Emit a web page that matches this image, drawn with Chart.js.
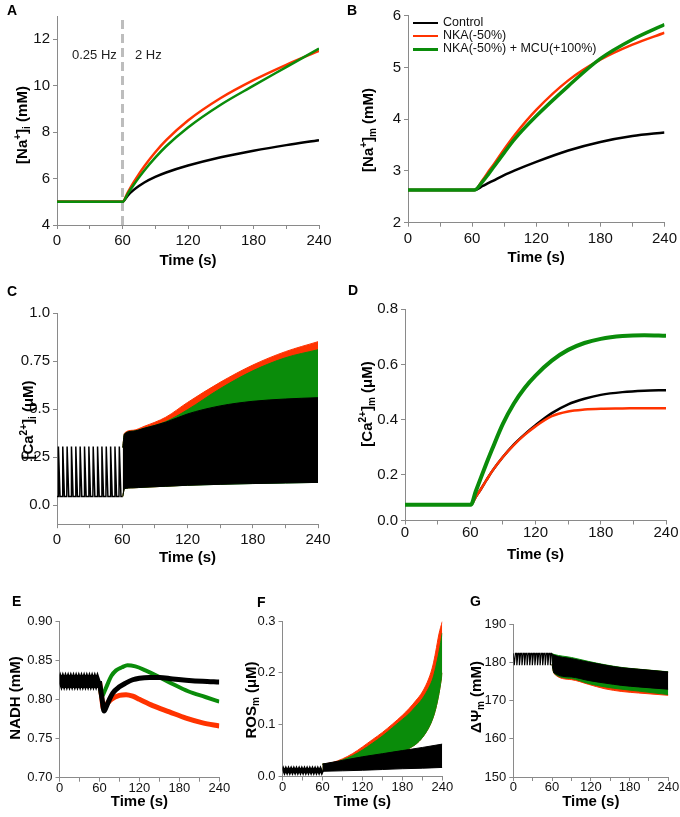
<!DOCTYPE html>
<html><head><meta charset="utf-8">
<script src="https://cdn.jsdelivr.net/npm/chart.js@4.4.1/dist/chart.umd.min.js"></script>
<style>
html,body{margin:0;padding:0;background:#fff;}
#wrap{position:relative;width:680px;height:817px;overflow:hidden;font-family:'Liberation Sans',Arial,sans-serif;}
.cv{position:absolute;}
.lab{position:absolute;font-weight:bold;font-size:14px;line-height:14px;color:#000;}
.note{position:absolute;font-size:13px;line-height:13px;color:#222;white-space:nowrap;}
.lg{position:absolute;height:0;}
</style></head><body><div id="wrap"></div>
<script>
// ---------- shared ----------
const seriesNames = ['Control', 'NKA(-50%)', 'NKA(-50%) + MCU(+100%)'];
const panelLetters = ['A', 'B', 'C', 'D', 'E', 'F', 'G'];
const stimLabels = ['0.25 Hz', '2 Hz'];
const timeTicks = [0, 30, 60, 90, 120, 150, 180, 210, 240];
const timeTickLabels = ['0', '', '60', '', '120', '', '180', '', '240'];
const xTitle = 'Time (s)';

// ---------- A: [Na+]i ----------
const naiT = [0, 60, 65, 70, 75, 80, 90, 100, 120, 150, 180, 210, 240];
const naiCtrl = [5.0, 5.0, 5.28, 5.5, 5.68, 5.83, 6.07, 6.26, 6.56, 6.92, 7.2, 7.44, 7.65];
const naiNka = [5.0, 5.0, 5.42, 5.82, 6.19, 6.53, 7.13, 7.65, 8.5, 9.47, 10.24, 10.9, 11.5];
const naiNkaMcu = [5.0, 5.0, 5.36, 5.71, 6.04, 6.35, 6.9, 7.39, 8.2, 9.18, 10.0, 10.8, 11.6];
const stimSwitchT = [60, 60];
const stimSwitchY = [4, 13];
const naiYTicks = [4, 6, 8, 10, 12];
const naiYLabels = ['4', '6', '8', '10', '12'];

// ---------- B: [Na+]m ----------
const namT = [0, 62, 70, 75, 80, 90, 100, 120, 150, 180, 210, 240];
const namCtrl = [2.63, 2.63, 2.71, 2.763, 2.815, 2.92, 3.01, 3.175, 3.395, 3.56, 3.675, 3.745];
const namNka = [2.63, 2.63, 2.83, 2.98, 3.12, 3.42, 3.70, 4.18, 4.75, 5.15, 5.44, 5.67];
const namNkaMcu = [2.63, 2.63, 2.80, 2.93, 3.07, 3.35, 3.62, 4.06, 4.64, 5.17, 5.54, 5.83];
const namYTicks = [2, 3, 4, 5, 6];
const namYLabels = ['2', '3', '4', '5', '6'];

// ---------- C: [Ca2+]i ----------
const caiPreT = [0, 1, 1.3, 2.8, 5, 5.3, 6.8, 9, 9.3, 10.8, 13, 13.3, 14.8, 17, 17.3, 18.8, 21, 21.3, 22.8, 25, 25.3, 26.8, 29, 29.3, 30.8, 33, 33.3, 34.8, 37, 37.3, 38.8, 41, 41.3, 42.8, 45, 45.3, 46.8, 49, 49.3, 50.8, 53, 53.3, 54.8, 57, 57.3, 58.8, 60.5];
const caiPreV = [0.045, 0.045, 0.305, 0.045, 0.045, 0.305, 0.045, 0.045, 0.305, 0.045, 0.045, 0.305, 0.045, 0.045, 0.305, 0.045, 0.045, 0.305, 0.045, 0.045, 0.305, 0.045, 0.045, 0.305, 0.045, 0.045, 0.305, 0.045, 0.045, 0.305, 0.045, 0.045, 0.305, 0.045, 0.045, 0.305, 0.045, 0.045, 0.305, 0.045, 0.045, 0.305, 0.045, 0.045, 0.305, 0.045, 0.045];
const caiBandT = [60.5, 62, 70, 80, 100, 120, 150, 180, 210, 240];
const caiCtrlUp = [0.30, 0.37, 0.385, 0.40, 0.432, 0.475, 0.517, 0.541, 0.553, 0.56];
const caiCtrlLo = [0.045, 0.085, 0.09, 0.093, 0.098, 0.103, 0.108, 0.112, 0.115, 0.118];
const caiNkaUp = [0.30, 0.375, 0.39, 0.41, 0.458, 0.535, 0.64, 0.73, 0.80, 0.852];
const caiNkaLo = [0.045, 0.085, 0.09, 0.093, 0.098, 0.104, 0.11, 0.115, 0.12, 0.128];
const caiMcuUp = [0.30, 0.37, 0.385, 0.40, 0.435, 0.497, 0.607, 0.70, 0.768, 0.81];
const caiMcuLo = [0.045, 0.085, 0.09, 0.093, 0.098, 0.103, 0.108, 0.112, 0.115, 0.118];
const caiYTicks = [0, 0.25, 0.5, 0.75, 1.0];
const caiYLabels = ['0.0', '0.25', '0.5', '0.75', '1.0'];

// ---------- D: [Ca2+]m ----------
const camT = [0, 60.5, 65, 70, 75, 80, 90, 100, 110, 120, 135, 150, 165, 180, 200, 220, 240];
const camCtrl = [0.092, 0.092, 0.12, 0.15, 0.182, 0.213, 0.265, 0.31, 0.347, 0.38, 0.424, 0.456, 0.476, 0.49, 0.50, 0.505, 0.507];
const camNka = [0.092, 0.092, 0.12, 0.15, 0.182, 0.213, 0.265, 0.308, 0.345, 0.376, 0.413, 0.43, 0.437, 0.44, 0.441, 0.442, 0.442];
const camNkaMcu = [0.092, 0.092, 0.14, 0.192, 0.243, 0.292, 0.385, 0.458, 0.515, 0.56, 0.614, 0.653, 0.678, 0.693, 0.703, 0.706, 0.704];
const camYTicks = [0.035, 0.2, 0.4, 0.6, 0.8];
const camYLabels = ['0.0', '0.2', '0.4', '0.6', '0.8'];

// ---------- E: NADH ----------
const zigT = [0, 1, 3, 5, 7, 9, 11, 13, 15, 17, 19, 21, 23, 25, 27, 29, 31, 33, 35, 37, 39, 41, 43, 45, 47, 49, 51, 53, 55, 57, 59, 60];
const nadhPreV = [0.823, 0.8255, 0.8205, 0.8255, 0.8205, 0.8255, 0.8205, 0.8255, 0.8205, 0.8255, 0.8205, 0.8255, 0.8205, 0.8255, 0.8205, 0.8255, 0.8205, 0.8255, 0.8205, 0.8255, 0.8205, 0.8255, 0.8205, 0.8255, 0.8205, 0.8255, 0.8205, 0.8255, 0.8205, 0.8255, 0.8205, 0.823];
const nadhCtrlT = [60, 64, 67, 70, 75, 80, 90, 100, 110, 120, 135, 150, 170, 190, 215, 240];
const nadhCtrl = [0.823, 0.80, 0.785, 0.79, 0.80, 0.808, 0.816, 0.821, 0.825, 0.827, 0.828, 0.828, 0.826, 0.8245, 0.823, 0.822];
const nadhNkaT = [60, 63, 66, 70, 78, 90, 100, 110, 120, 140, 165, 190, 215, 240];
const nadhNka = [0.823, 0.805, 0.788, 0.793, 0.80, 0.805, 0.806, 0.804, 0.80, 0.792, 0.784, 0.776, 0.77, 0.766];
const nadhMcuT = [60, 63.5, 66, 70, 78, 85, 94, 102, 114, 129, 144, 169, 194, 219, 240];
const nadhMcu = [0.823, 0.803, 0.807, 0.815, 0.83, 0.837, 0.841, 0.8435, 0.842, 0.837, 0.831, 0.82, 0.81, 0.803, 0.797];
const nadhYTicks = [0.70, 0.75, 0.80, 0.85, 0.90];
const nadhYLabels = ['0.70', '0.75', '0.80', '0.85', '0.90'];

// ---------- F: ROSm ----------
const rosPreV = [0.0115, 0.0145, 0.0085, 0.0145, 0.0085, 0.0145, 0.0085, 0.0145, 0.0085, 0.0145, 0.0085, 0.0145, 0.0085, 0.0145, 0.0085, 0.0145, 0.0085, 0.0145, 0.0085, 0.0145, 0.0085, 0.0145, 0.0085, 0.0145, 0.0085, 0.0145, 0.0085, 0.0145, 0.0085, 0.0145, 0.0085, 0.0115];
const rosCtrlT = [60, 90, 120, 150, 180, 210, 240];
const rosCtrlUp = [0.024, 0.031, 0.038, 0.044, 0.05, 0.056, 0.0625];
const rosCtrlLo = [0.010, 0.011, 0.012, 0.0135, 0.015, 0.016, 0.0175];
const rosT = [60, 75, 90, 105, 120, 135, 150, 165, 180, 190, 200, 210, 220, 226, 230, 235, 240];
const rosNkaUp = [0.024, 0.027, 0.034, 0.044, 0.057, 0.071, 0.085, 0.101, 0.118, 0.131, 0.146, 0.163, 0.19, 0.215, 0.24, 0.275, 0.299];
const rosMcuUp = [0.024, 0.026, 0.032, 0.04, 0.051, 0.064, 0.078, 0.094, 0.11, 0.121, 0.135, 0.15, 0.172, 0.19, 0.21, 0.24, 0.277];
const rosMcuLo = [0.012, 0.013, 0.014, 0.016, 0.018, 0.022, 0.026, 0.033, 0.044, 0.054, 0.062, 0.075, 0.095, 0.113, 0.13, 0.16, 0.2];
const rosYTicks = [0, 0.1, 0.2, 0.3];
const rosYLabels = ['0.0', '0.1', '0.2', '0.3'];

// ---------- G: ΔΨm ----------
const psiPreT = [0, 1, 1.5, 3.3, 5, 5.5, 7.3, 9, 9.5, 11.3, 13, 13.5, 15.3, 17, 17.5, 19.3, 21, 21.5, 23.3, 25, 25.5, 27.3, 29, 29.5, 31.3, 33, 33.5, 35.3, 37, 37.5, 39.3, 41, 41.5, 43.3, 45, 45.5, 47.3, 49, 49.5, 51.3, 53, 53.5, 55.3, 57, 57.5, 59.3, 60];
const psiPreV = [182.4, 182.4, 179.3, 182.4, 182.4, 179.3, 182.4, 182.4, 179.3, 182.4, 182.4, 179.3, 182.4, 182.4, 179.3, 182.4, 182.4, 179.3, 182.4, 182.4, 179.3, 182.4, 182.4, 179.3, 182.4, 182.4, 179.3, 182.4, 182.4, 179.3, 182.4, 182.4, 179.3, 182.4, 182.4, 179.3, 182.4, 182.4, 179.3, 182.4, 182.4, 179.3, 182.4, 182.4, 179.3, 182.4, 182.4];
const psiT = [60, 63, 90, 116, 142, 168, 194, 240];
const psiCtrlUp = [182.2, 181.9, 181.0, 180.1, 179.3, 178.6, 178.2, 177.5];
const psiCtrlLo = [179.5, 177.3, 176.2, 175.3, 174.6, 174.0, 173.6, 173.0];
const psiMcuUp = [182.3, 182.1, 181.3, 180.3, 179.4, 178.7, 178.25, 177.55];
const psiMcuLo = [179.5, 177.2, 175.8, 174.5, 173.6, 173.0, 172.5, 171.6];
const psiNkaUp = [182.2, 181.9, 181.0, 180.1, 179.3, 178.6, 178.2, 177.5];
const psiNkaLo = [179.5, 177.1, 175.5, 174.3, 173.1, 172.4, 172.0, 171.4];
const psiYTicks = [150, 160, 170, 180, 190];
const psiYLabels = ['150', '160', '170', '180', '190'];

// ---------- y-axis titles (text pieces: [text, 'sup'|'sub'|''] ) ----------
const yTitleA = [['[Na', ''], ['+', 'sup'], [']', ''], ['i', 'sub'], [' (mM)', '']];
const yTitleB = [['[Na', ''], ['+', 'sup'], [']', ''], ['m', 'sub'], [' (mM)', '']];
const yTitleC = [['[Ca', ''], ['2+', 'sup'], [']', ''], ['i', 'sub'], [' (\u03BCM)', '']];
const yTitleD = [['[Ca', ''], ['2+', 'sup'], [']', ''], ['m', 'sub'], [' (\u03BCM)', '']];
const yTitleE = [['NADH (mM)', '']];
const yTitleF = [['ROS', ''], ['m', 'sub'], [' (\u03BCM)', '']];
const yTitleG = [['\u0394\u03A8', ''], ['m', 'sub'], [' (mM)', '']];

// ---------- styling / helpers ----------
const COL = ['#000000', '#ff3300', '#0a8c0a'];
const AXIS = '#8a8a8a';
const FONT = "'Liberation Sans', Arial, 'DejaVu Sans', sans-serif";
Chart.defaults.font.family = FONT;
const wrap = document.getElementById('wrap');

const richTitle = {
  id: 'richTitle',
  afterDraw(chart, args, o) {
    if (!o || !o.pieces) return;
    const ctx = chart.ctx;
    const fnt = k => 'bold ' + (k ? 10 : 15) + 'px ' + FONT;
    ctx.save();
    ctx.translate(o.x, o.y);
    ctx.rotate(-Math.PI / 2);
    let w = 0;
    o.pieces.forEach(p => { ctx.font = fnt(p[1]); w += ctx.measureText(p[0]).width; });
    let x = -w / 2;
    ctx.textBaseline = 'middle';
    ctx.textAlign = 'left';
    ctx.fillStyle = '#000';
    o.pieces.forEach(p => {
      ctx.font = fnt(p[1]);
      const dy = p[1] === 'sup' ? -5 : (p[1] === 'sub' ? 4 : 0);
      ctx.fillText(p[0], x, dy);
      x += ctx.measureText(p[0]).width;
    });
    ctx.restore();
  }
};

const xy = (t, v) => t.map((x, i) => ({x: x, y: v[i]}));
function line(t, v, color, w, extra) {
  return Object.assign({data: xy(t, v), borderColor: color, backgroundColor: color, borderWidth: w,
    pointRadius: 0, fill: false, cubicInterpolationMode: 'monotone', borderCapStyle: 'butt'}, extra || {});
}
function spikes(t, v, color, w) {
  return line(t, v, color, w, {cubicInterpolationMode: 'default', tension: 0, borderJoinStyle: 'miter'});
}
function band(t, lo, up, color) {
  return [line(t, lo, color, 1), line(t, up, color, 1, {fill: '-1'})];
}

function panel(box, area, yTitle, xTitleCY, datasets, y, small, xPad) {
  const tickSize = small ? 13 : 15;
  const lh = 18;
  const padL = 4;
  const padB = box.top + box.h - xTitleCY - lh / 2;
  const padT = area.t - box.top;
  const padR = box.left + box.w - area.r;
  const yW = area.l - box.left - padL;
  const xH = box.top + box.h - padB - area.b;
  const c = document.createElement('canvas');
  c.width = box.w; c.height = box.h;
  c.className = 'cv';
  c.style.left = box.left + 'px'; c.style.top = box.top + 'px';
  wrap.appendChild(c);
  const grid = {display: true, drawOnChartArea: false, drawTicks: true, tickLength: 4, color: AXIS, lineWidth: 1};
  const border = {display: true, color: AXIS, width: 1};
  return new Chart(c, {
    type: 'line',
    data: {datasets: datasets},
    plugins: [richTitle],
    options: {
      responsive: false, animation: false, events: [],
      layout: {padding: {left: padL, right: padR, top: padT, bottom: padB}},
      plugins: {legend: {display: false}, tooltip: {enabled: false},
        richTitle: {pieces: yTitle.pieces, x: yTitle.cx - box.left, y: yTitle.cy - box.top}},
      scales: {
        x: {type: 'linear', min: 0, max: 240,
          afterBuildTicks: s => { s.ticks = timeTicks.map(v => ({value: v})); },
          afterFit: s => { s.height = xH; },
          ticks: {autoSkip: false, maxRotation: 0, padding: xPad, color: '#111', font: {size: tickSize},
            callback: (v, i) => timeTickLabels[i]},
          grid: grid, border: border,
          title: {display: true, text: xTitle, color: '#000', font: {size: 15, weight: 'bold', lineHeight: 1.2}, padding: 0}
        },
        y: {type: 'linear', min: y.min, max: y.max,
          afterBuildTicks: s => { s.ticks = y.ticks.map(v => ({value: v})); },
          afterFit: s => { s.width = yW; },
          ticks: {autoSkip: false, padding: 3, color: '#111', font: {size: tickSize},
            callback: (v, i) => y.labels[i]},
          grid: grid, border: border,
          title: {display: false}
        }
      }
    }
  });
}

// ---------- A ----------
panel({left: 0, top: 0, w: 340, h: 272}, {l: 57, r: 319, t: 16, b: 225}, {pieces: yTitleA, cx: 23, cy: 125}, 261, [
  line(naiT, naiNkaMcu, COL[2], 2.5),
  line(naiT, naiNka, COL[1], 2.5),
  line(naiT, naiCtrl, COL[0], 2.5),
  line(stimSwitchT, stimSwitchY, '#bdbdbd', 3, {borderDash: [9, 5], cubicInterpolationMode: 'default'})
], {min: 4, max: 13, ticks: naiYTicks, labels: naiYLabels}, false, 3);

// ---------- B ----------
panel({left: 340, top: 0, w: 340, h: 272}, {l: 408, r: 668, t: 15.7, b: 222.7}, {pieces: yTitleB, cx: 369, cy: 130}, 258, [
  line(namT, namNkaMcu, COL[2], 3.5),
  line(namT, namNka, COL[1], 2.5),
  line(namT, namCtrl, COL[0], 2.5)
], {min: 2, max: 6, ticks: namYTicks, labels: namYLabels}, false, 3);

// ---------- C ----------
panel({left: 0, top: 270, w: 340, h: 310}, {l: 57, r: 318, t: 313.3, b: 524.2}, {pieces: yTitleC, cx: 29, cy: 420}, 558, [
  ...band(caiBandT, caiCtrlLo, caiCtrlUp, COL[0]),
  ...band(caiBandT, caiMcuLo, caiMcuUp, COL[2]),
  ...band(caiBandT, caiNkaLo, caiNkaUp, COL[1]),
  spikes(caiPreT, caiPreV, COL[0], 1.5)
], {min: -0.1, max: 1.0, ticks: caiYTicks, labels: caiYLabels}, false, 3);

// ---------- D ----------
panel({left: 340, top: 270, w: 340, h: 310}, {l: 405, r: 666, t: 309.3, b: 520.5}, {pieces: yTitleD, cx: 368, cy: 404}, 555, [
  line(camT, camNkaMcu, COL[2], 4),
  line(camT, camNka, COL[1], 2.5),
  line(camT, camCtrl, COL[0], 2.5)
], {min: 0.035, max: 0.8, ticks: camYTicks, labels: camYLabels}, false, -1);

// ---------- E ----------
panel({left: 0, top: 580, w: 230, h: 237}, {l: 59.5, r: 219.3, t: 621, b: 777.7}, {pieces: yTitleE, cx: 16, cy: 698}, 802, [
  spikes(zigT, nadhPreV, COL[0], 5),
  line(nadhCtrlT, nadhCtrl, COL[0], 5),
  line(nadhMcuT, nadhMcu, COL[2], 4),
  line(nadhNkaT, nadhNka, COL[1], 5)
], {min: 0.70, max: 0.90, ticks: nadhYTicks, labels: nadhYLabels}, true, -1);

// ---------- F ----------
panel({left: 230, top: 580, w: 225, h: 237}, {l: 282.5, r: 442.3, t: 621, b: 776.5}, {pieces: yTitleF, cx: 252, cy: 700}, 802, [
  spikes(zigT, rosPreV, COL[0], 3),
  ...band(rosCtrlT, rosCtrlLo, rosCtrlUp, COL[0]),
  ...band(rosT, rosMcuLo, rosMcuUp, COL[2]),
  ...band(rosT, rosMcuLo, rosNkaUp, COL[1])
], {min: 0, max: 0.3, ticks: rosYTicks, labels: rosYLabels}, true, -1);

// ---------- G ----------
panel({left: 455, top: 580, w: 225, h: 237}, {l: 513.3, r: 668.3, t: 624.3, b: 777}, {pieces: yTitleG, cx: 477, cy: 697}, 802, [
  spikes(psiPreT, psiPreV, COL[0], 1.2),
  ...band(psiT, psiCtrlLo, psiCtrlUp, COL[0]),
  ...band(psiT, psiMcuLo, psiMcuUp, COL[2]),
  ...band(psiT, psiNkaLo, psiNkaUp, COL[1])
], {min: 150, max: 190, ticks: psiYTicks, labels: psiYLabels}, true, -1);

// ---------- text overlays ----------
const letterPos = [[7, 3], [347, 3], [7, 284], [348, 283], [12, 594], [257, 595], [470, 594]];
panelLetters.forEach((L, i) => {
  const d = document.createElement('div');
  d.className = 'lab'; d.textContent = L;
  d.style.left = letterPos[i][0] + 'px'; d.style.top = letterPos[i][1] + 'px';
  wrap.appendChild(d);
});
const notePos = [[72, 48], [135, 48]];
stimLabels.forEach((s, i) => {
  const d = document.createElement('div');
  d.className = 'note'; d.textContent = s;
  d.style.left = notePos[i][0] + 'px'; d.style.top = notePos[i][1] + 'px';
  wrap.appendChild(d);
});
const legendRows = [23, 36, 49];
const legendW = [2.5, 2.5, 3];
seriesNames.forEach((n, i) => {
  const ln = document.createElement('div');
  ln.className = 'lg';
  ln.style.left = '413px'; ln.style.width = '25px';
  ln.style.top = (legendRows[i] - legendW[i] / 2) + 'px';
  ln.style.borderTop = legendW[i] + 'px solid ' + COL[i];
  wrap.appendChild(ln);
  const t = document.createElement('div');
  t.className = 'note'; t.textContent = n; t.style.color = '#111'; t.style.fontSize = '12.5px';
  t.style.left = '443px'; t.style.top = (legendRows[i] - 7) + 'px';
  wrap.appendChild(t);
});
</script>
</body></html>
